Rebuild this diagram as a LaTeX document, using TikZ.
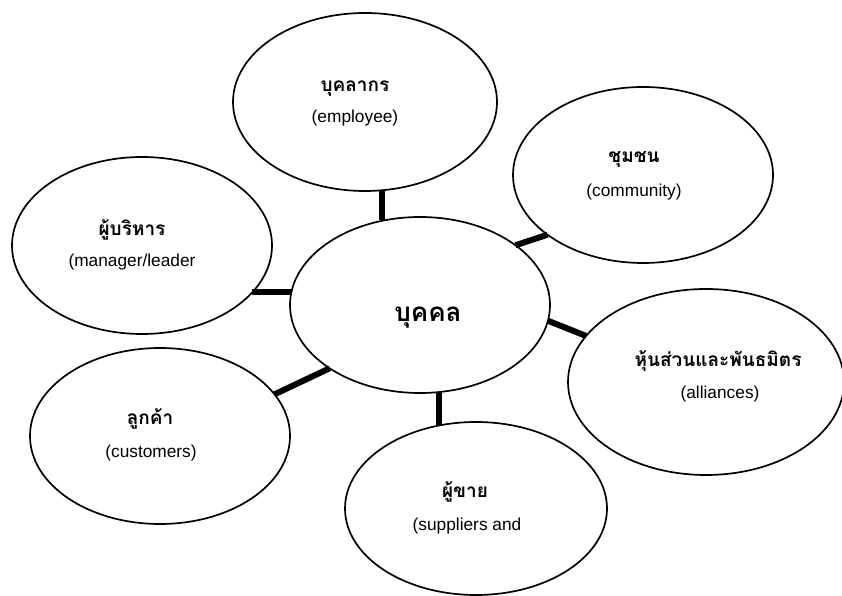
\documentclass[tikz,border=0pt]{standalone}
\usepackage{fontspec}
\setmainfont{Liberation Sans}
\newfontfamily\thaifont[Script=Thai]{Loma}
\usetikzlibrary{shapes.geometric}
\begin{document}
\begin{tikzpicture}[x=1pt,y=1pt,
  bub/.style={draw, ellipse, line width=1.7pt, inner sep=0pt, outer sep=0pt},
  link/.style={line width=6pt},
  th/.style={font=\thaifont\bfseries\fontsize{19}{23}\selectfont, anchor=base, inner sep=0pt},
  thbig/.style={font=\thaifont\bfseries\fontsize{26}{31}\selectfont, anchor=base, inner sep=0pt},
  en/.style={font=\fontsize{17.3}{20}\selectfont, inner sep=0pt}]
\useasboundingbox (0,0) rectangle (842,596);
% ellipses
\node[bub, minimum width=260pt, minimum height=176pt] (C) at (420,291) {};
\node[bub, minimum width=264pt, minimum height=178pt] (T) at (365,494) {};
\node[bub, minimum width=260pt, minimum height=176pt] (UR) at (643,421) {};
\node[bub, minimum width=260pt, minimum height=177pt] (L) at (142,350.5) {};
\node[bub, minimum width=276pt, minimum height=186pt] (R) at (706,214) {};
\node[bub, minimum width=260pt, minimum height=176pt] (LL) at (160,160) {};
\node[bub, minimum width=262pt, minimum height=173pt] (B) at (476,87.5) {};
% labels
\node[thbig] (Ct) at (428,274.3) {บุคคล};
\node[th] (Tt) at (355,504) {บุคลากร};
\node[en] (Te) at (355,478) {(employee)};
\node[th] (URt) at (634,433) {ชุมชน};
\node[en] (URe) at (634,404) {(community)};
\node[th] (Lt) at (132,360) {ผู้บริหาร};
\node[en] (Le) at (132,334) {(manager/leader};
\node[th] (Rt) at (718,229) {หุ้นส่วนและพันธมิตร};
\node[en] (Re) at (720,202) {(alliances)};
\node[th] (LLt) at (150,171) {ลูกค้า};
\node[en] (LLe) at (151,143) {(customers)};
\node[th] (Bt) at (465,98) {ผู้ขาย};
\node[en] (Be) at (467,70) {(suppliers and};
% connectors
\draw[link] (T.-79) -- (T.-79 |- C.113);
\draw[link] (C.32) -- (UR.212);
\draw[link] (L.-23) -- (L.-23 -| C.175);
\draw[link] (C.-7.5) -- (R.159);
\draw[link] (LL.20) -- (C.215);
\draw[link] (C.-78) -- (C.-78 |- B.113);
\end{tikzpicture}
\end{document}
